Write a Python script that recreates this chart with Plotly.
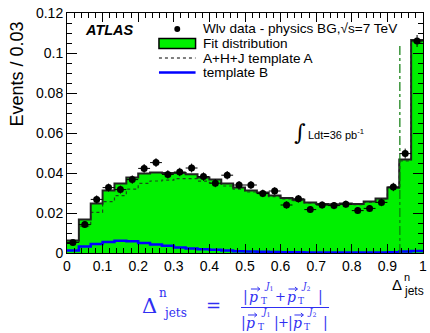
import plotly.graph_objects as go

# ---------------- data ----------------
n_bins = 30
x_min, x_max = 0.0, 1.0
fit_dist = [0.0062, 0.0167, 0.0248, 0.0312, 0.0348, 0.0378, 0.0398, 0.0402, 0.0400, 0.0400,
            0.0394, 0.0378, 0.0367, 0.0348, 0.0328, 0.0312, 0.0303, 0.0287, 0.0275, 0.0266,
            0.0253, 0.0245, 0.0244, 0.0247, 0.0245, 0.0257, 0.0273, 0.0328, 0.0468, 0.1065]
template_A = [0.0050, 0.0134, 0.0203, 0.0257, 0.0287, 0.0319, 0.0348, 0.0360, 0.0364, 0.0372,
              0.0372, 0.0359, 0.0351, 0.0335, 0.0319, 0.0305, 0.0297, 0.0282, 0.0271, 0.0262,
              0.0250, 0.0242, 0.0241, 0.0244, 0.0242, 0.0254, 0.0270, 0.0324, 0.0460, 0.1055]
template_B = [0.0012, 0.0033, 0.0045, 0.0055, 0.0061, 0.0059, 0.0050, 0.0042, 0.0036, 0.0028,
              0.0022, 0.0019, 0.0016, 0.0013, 0.0009, 0.0007, 0.0006, 0.0005, 0.0004, 0.0004,
              0.0003, 0.0003, 0.0003, 0.0003, 0.0003, 0.0003, 0.0003, 0.0004, 0.0008, 0.0010]
data_vals = [0.0053, 0.0142, 0.0268, 0.0327, 0.0317, 0.0367, 0.0423, 0.0452, 0.0393, 0.0405,
             0.0425, 0.0382, 0.0349, 0.0389, 0.0340, 0.0340, 0.0298, 0.0310, 0.0240, 0.0271,
             0.0217, 0.0240, 0.0237, 0.0244, 0.0212, 0.0223, 0.0253, 0.0330, 0.0497, 0.1060]
data_err = [0.0012, 0.0017, 0.0020, 0.0020, 0.0020, 0.0021, 0.0022, 0.0022, 0.0021, 0.0021,
            0.0022, 0.0021, 0.0020, 0.0021, 0.0020, 0.0020, 0.0019, 0.0019, 0.0018, 0.0019,
            0.0017, 0.0018, 0.0018, 0.0018, 0.0017, 0.0017, 0.0019, 0.0021, 0.0025, 0.0030]
cut_x = 0.935
cut_top = 0.105
x_tickvals = [0, 0.1, 0.2, 0.3, 0.4, 0.5, 0.6, 0.7, 0.8, 0.9, 1.0]
x_ticktext = ["0", "0.1", "0.2", "0.3", "0.4", "0.5", "0.6", "0.7", "0.8", "0.9", "1"]
y_tickvals = [0, 0.02, 0.04, 0.06, 0.08, 0.1, 0.12]
y_ticktext = ["0", "0.02", "0.04", "0.06", "0.08", "0.1", "0.12"]

bw = (x_max - x_min) / n_bins
edges = [x_min + i * bw for i in range(n_bins + 1)]
centers = [x_min + (i + 0.5) * bw for i in range(n_bins)]

W, H = 430, 333
L, R, T, B = 67, 3, 13, 80
PW, PH = W - L - R, H - T - B


def px(x):
    return (x - L) / PW


def py(y):
    return (H - B - y) / PH


GREEN = "#00f000"
BLUE_F = "#2f2ff2"
SANS = "Liberation Sans, Arial, sans-serif"
SERIF = "DejaVu Serif, serif"

fig = go.Figure()

fig.add_trace(go.Scatter(x=edges, y=fit_dist + [fit_dist[-1]], mode="lines",
                         line=dict(shape="hv", color="rgba(0,0,0,0)", width=0),
                         fill="tozeroy", fillcolor=GREEN, hoverinfo="skip"))
fig.add_trace(go.Scatter(x=edges, y=template_A + [template_A[-1]], mode="lines",
                         line=dict(shape="hv", color="#1a4a1a", width=1.2, dash="dot"),
                         hoverinfo="skip"))
fig.add_trace(go.Scatter(x=edges, y=template_B + [template_B[-1]], mode="lines",
                         line=dict(shape="hv", color="#0000ff", width=2.5),
                         hoverinfo="skip"))
fig.add_trace(go.Scatter(x=edges, y=fit_dist + [fit_dist[-1]], mode="lines",
                         line=dict(shape="hv", color="#222222", width=2),
                         hoverinfo="skip"))
fig.add_trace(go.Scatter(x=[cut_x, cut_x], y=[0, cut_top], mode="lines",
                         line=dict(color="#0a7a0a", width=1.2, dash="dashdot"),
                         hoverinfo="skip"))
fig.add_trace(go.Scatter(x=centers, y=data_vals, mode="markers",
                         marker=dict(color="black", size=7),
                         error_y=dict(type="data", array=data_err, color="black", thickness=1, width=0),
                         error_x=dict(type="constant", value=bw / 2, color="black", thickness=1, width=0),
                         hoverinfo="skip"))

axis_common = dict(showline=True, linecolor="black", linewidth=1, mirror="ticks",
                   ticks="inside", tickcolor="black", showgrid=False, zeroline=False,
                   ticklabeloverflow="allow",
                   tickfont=dict(family=SANS, size=14, color="black"))
fig.update_xaxes(range=[x_min, x_max], tickvals=x_tickvals, ticktext=x_ticktext,
                 ticklen=9, minor=dict(dtick=0.02, ticks="inside", ticklen=5, tickcolor="black",
                                       showgrid=False),
                 **axis_common)
fig.update_yaxes(range=[0, 0.12], tickvals=y_tickvals, ticktext=y_ticktext,
                 ticklen=10, minor=dict(dtick=0.005, ticks="inside", ticklen=5, tickcolor="black",
                                        showgrid=False),
                 **axis_common)

shapes = []
ann = []


def add_text(x, y, text, size, family=SANS, color="black", xanchor="center", angle=0):
    ann.append(dict(xref="paper", yref="paper", x=px(x), y=py(y), text=text, showarrow=False,
                    xanchor=xanchor, yanchor="middle", textangle=angle,
                    font=dict(family=family, size=size, color=color)))


def add_vec_arrow(x0, x1, y, color):
    path = "M %f,%f L %f,%f M %f,%f L %f,%f L %f,%f" % (
        px(x0), py(y), px(x1), py(y),
        px(x1 - 2.5), py(y - 2), px(x1), py(y), px(x1 - 2.5), py(y + 2))
    shapes.append(dict(type="path", xref="paper", yref="paper", path=path,
                       line=dict(color=color, width=1)))


# legend (manual)
rows_y = [29, 43.5, 58, 72.5]
sym_x0, sym_x1 = 160, 197
text_x = 202
shapes.append(dict(type="circle", xref="paper", yref="paper", x0=px(175.5), x1=px(181.5),
                   y0=py(rows_y[0] + 3), y1=py(rows_y[0] - 3), fillcolor="black",
                   line=dict(color="black", width=0)))
shapes.append(dict(type="rect", xref="paper", yref="paper", x0=px(sym_x0), x1=px(sym_x1),
                   y0=py(rows_y[1] + 5), y1=py(rows_y[1] - 5), fillcolor=GREEN,
                   line=dict(color="black", width=1.5)))
shapes.append(dict(type="line", xref="paper", yref="paper", x0=px(sym_x0), x1=px(sym_x1),
                   y0=py(rows_y[2]), y1=py(rows_y[2]), line=dict(color="black", width=1, dash="dot")))
shapes.append(dict(type="line", xref="paper", yref="paper", x0=px(sym_x0), x1=px(sym_x1),
                   y0=py(rows_y[3]), y1=py(rows_y[3]), line=dict(color="#0000ff", width=2.5)))
legend_texts = ["Wlν data - physics BG,√s=7 TeV", "Fit distribution",
                "A+H+J template A", "template B"]
for t, yy in zip(legend_texts, rows_y):
    add_text(text_x, yy, t, 13.6, xanchor="left")

add_text(83, 30, "<b><i>ATLAS</i></b>", 14.5, xanchor="left")
add_text(303, 132, "∫", 22, family=SERIF)
add_text(309, 134, "Ldt=36 pb<sup>-1</sup>", 11, xanchor="left")

# axis titles
add_text(16, 74, "Events / 0.03", 18, angle=-90)
add_text(401, 284, "Δ", 15)
add_text(411, 277, "n", 11)
add_text(418, 291, "jets", 12)

# formula (blue, built from pieces)
add_text(150, 306, "Δ", 21, family=SERIF, color=BLUE_F)
add_text(164, 293, "n", 12, family=SERIF, color=BLUE_F)
add_text(176, 313, "jets", 12, family=SERIF, color=BLUE_F)
add_text(215, 305, "=", 18, family=SERIF, color=BLUE_F)


def vec_pt(xp, yb, idx):
    # p with arrow, subscript T, superscript J_idx
    add_text(xp, yb + 1, "<i>p</i>", 14, family=SERIF, color=BLUE_F)
    add_vec_arrow(xp - 3, xp + 6, yb - 7, BLUE_F)
    add_text(xp + 10, yb + 5, "T", 9, family=SERIF, color=BLUE_F)
    add_text(xp + 15, yb - 10, "<i>J</i><sub>%d</sub>" % idx, 9, family=SERIF, color=BLUE_F)


# numerator
ny = 296
add_text(248, ny, "|", 14, family=SERIF, color=BLUE_F)
vec_pt(256, ny, 1)
add_text(283, ny, "+", 13, family=SERIF, color=BLUE_F)
vec_pt(294, ny, 2)
add_text(323, ny, "|", 14, family=SERIF, color=BLUE_F)
# denominator
dy = 322
add_text(245, dy, "|", 14, family=SERIF, color=BLUE_F)
vec_pt(253, dy, 1)
add_text(279, dy, "|", 14, family=SERIF, color=BLUE_F)
add_text(286, dy, "+", 13, family=SERIF, color=BLUE_F)
add_text(293, dy, "|", 14, family=SERIF, color=BLUE_F)
vec_pt(300, dy, 2)
add_text(328, dy, "|", 14, family=SERIF, color=BLUE_F)
shapes.append(dict(type="line", xref="paper", yref="paper", x0=px(243), x1=px(332),
                   y0=py(307.5), y1=py(307.5), line=dict(color=BLUE_F, width=1)))

fig.update_layout(width=W, height=H, margin=dict(l=L, r=R, t=T, b=B, pad=0),
                  paper_bgcolor="white", plot_bgcolor="white", showlegend=False,
                  shapes=shapes, annotations=ann)

fig.write_html("out.html")
